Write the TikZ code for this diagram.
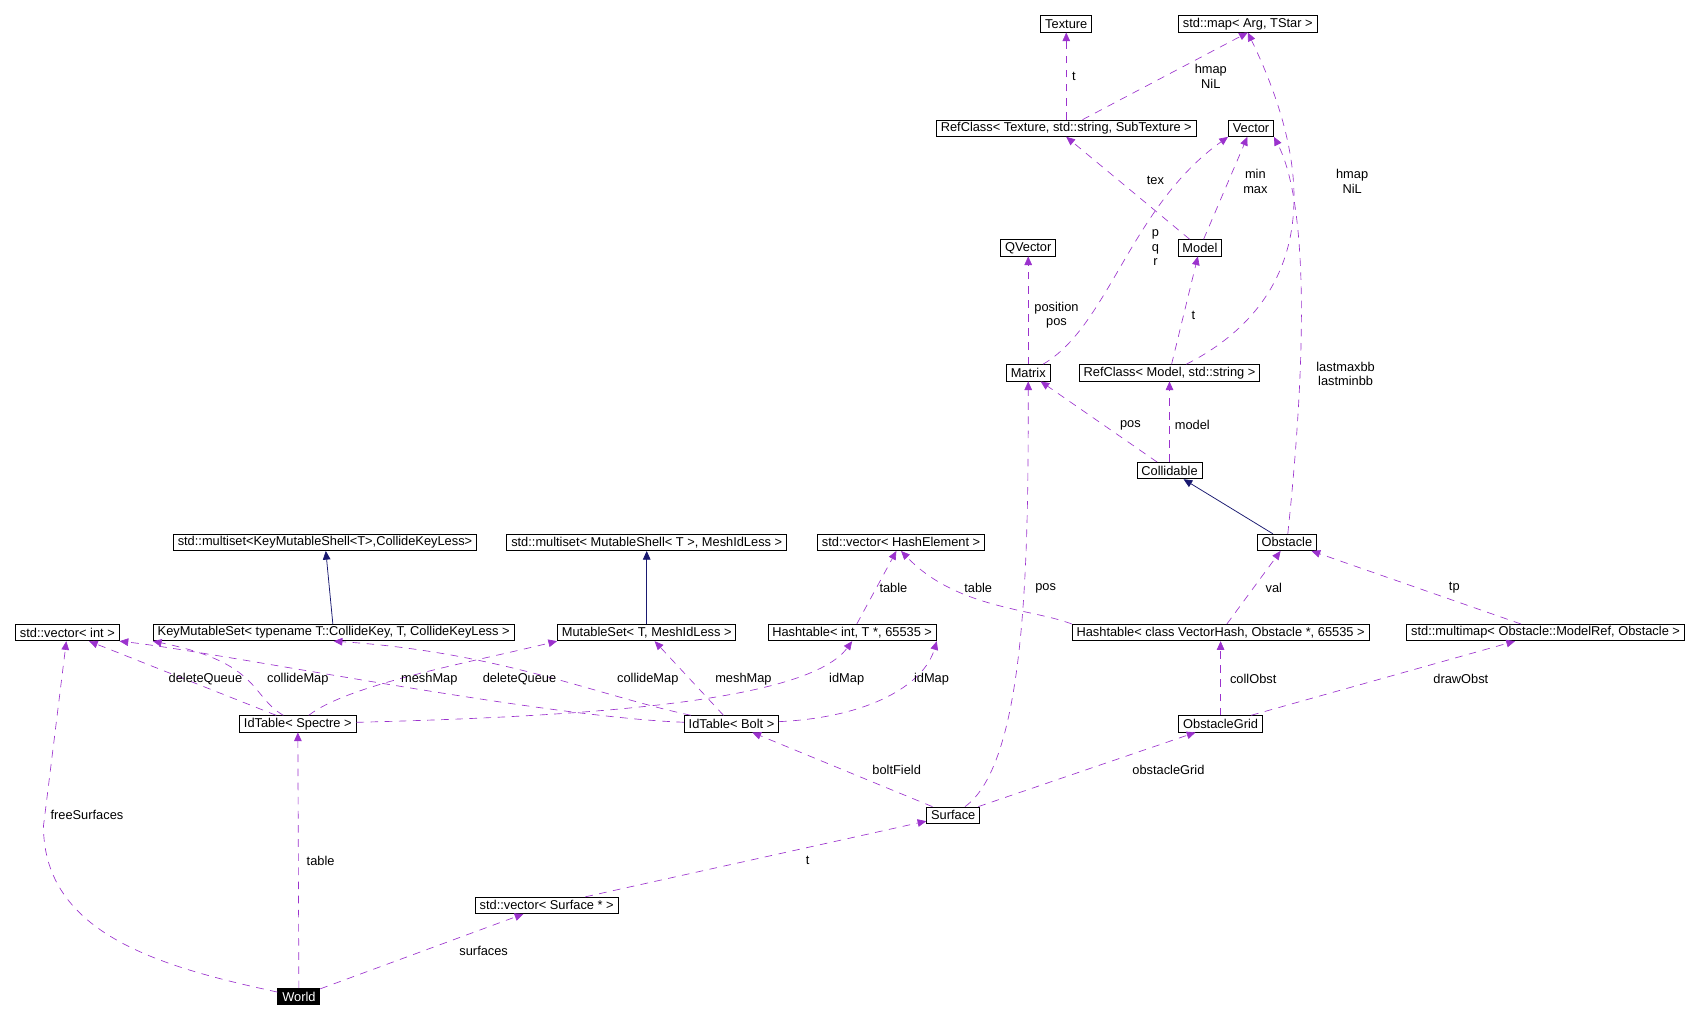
\documentclass[tikz,border=0pt]{standalone}
\usepackage{fontspec}
\setmainfont{Liberation Sans}
\usetikzlibrary{arrows.meta}
\begin{document}
\begin{tikzpicture}[x=1pt,y=-1pt,
  box/.style={draw,line width=0.8pt,inner xsep=4pt,inner ysep=1pt,minimum height=15pt,font=\fontsize{11.8}{12}\selectfont},
  lbl/.style={font=\fontsize{11.8}{13.5}\selectfont,align=center,inner sep=0pt},
  use/.style={draw={rgb,255:red,155;green,50;blue,205},dashed,dash pattern=on 7pt off 6pt,line width=0.6pt,
    -{Triangle[length=8pt,width=7pt,fill={rgb,255:red,155;green,50;blue,205}]}},
  inh/.style={draw={rgb,255:red,25;green,25;blue,112},line width=0.7pt,
    -{Triangle[length=8pt,width=7pt,fill={rgb,255:red,25;green,25;blue,112}]}}]
\useasboundingbox (0,0) rectangle (1565,937);
\node[box] (tex) at (981,22) {Texture};
\node[box] (map) at (1148,22) {std::map< Arg, TStar >};
\node[box] (reft) at (981,118) {RefClass< Texture, std::string, SubTexture >};
\node[box] (vec) at (1151,118) {Vector};
\node[box] (qv) at (946,228) {QVector};
\node[box] (model) at (1104,228) {Model};
\node[box] (mat) at (946,343) {Matrix};
\node[box] (refm) at (1076,343) {RefClass< Model, std::string >};
\node[box] (coll) at (1076,433) {Collidable};
\node[box] (obs) at (1184,499) {Obstacle};
\node[box] (msk) at (299,499) {std::multiset<KeyMutableShell<T>,CollideKeyLess>};
\node[box] (msm) at (595,499) {std::multiset< MutableShell< T >, MeshIdLess >};
\node[box] (vh) at (829,499) {std::vector< HashElement >};
\node[box] (vi) at (62,582) {std::vector< int >};
\node[box] (kms) at (307,582) {KeyMutableSet< typename T::CollideKey, T, CollideKeyLess >};
\node[box] (ms) at (595,582) {MutableSet< T, MeshIdLess >};
\node[box] (ht) at (784,582) {Hashtable< int, T *, 65535 >};
\node[box] (hv) at (1123,582) {Hashtable< class VectorHash, Obstacle *, 65535 >};
\node[box] (mm) at (1422,582) {std::multimap< Obstacle::ModelRef, Obstacle >};
\node[box] (ids) at (274,666) {IdTable< Spectre >};
\node[box] (idb) at (673,666) {IdTable< Bolt >};
\node[box] (og) at (1123,666) {ObstacleGrid};
\node[box] (surf) at (877,750) {Surface};
\node[box] (vs) at (503,833) {std::vector< Surface * >};
\node[box,fill=black,text=white] (world) at (275,917) {World};

\draw[use] (reft) -- (tex);
\draw[use] (reft) -- (map.south);
\draw[use] (model) -- (reft.south);
\draw[use] (model) -- (vec);
\draw[use] (mat) .. controls (1020,300) and (1040,190) .. (vec.south west);
\draw[use] (obs) .. controls (1205,300) and (1200,180) .. (vec.south east);
\draw[use] (refm) .. controls (1180,290) and (1230,200) .. (map.south);
\draw[use] (refm) -- (model);
\draw[use] (mat) -- (qv);
\draw[use] (coll) -- (mat);
\draw[use] (coll) -- (refm);
\draw[inh] (obs) -- (coll);
\draw[inh] (kms) -- (msk);
\draw[inh] (ms) -- (msm);
\draw[use] (ht) -- (vh);
\draw[use] (hv.north west) .. controls (950,560) and (880,560) .. (vh.south);
\draw[use] (hv) -- (obs);
\draw[use] (mm) -- (obs);
\draw[use] (surf) .. controls (946,700) and (946,500) .. (mat);
\draw[use] (ids) -- (vi);
\draw[use] (ids) .. controls (230,640) and (240,610) .. (kms.south west);
\draw[use] (ids) .. controls (320,630) and (430,610) .. (ms.south west);
\draw[use] (ids) .. controls (500,660) and (740,650) .. (ht.south);
\draw[use] (idb) .. controls (500,660) and (200,600) .. (vi.south east);
\draw[use] (idb) .. controls (550,640) and (460,600) .. (kms.south);
\draw[use] (idb) -- (ms);
\draw[use] (idb) .. controls (800,660) and (850,630) .. (ht.south east);
\draw[use] (og) -- (hv);
\draw[use] (og) -- (mm);
\draw[use] (surf) -- (idb);
\draw[use] (surf) -- (og);
\draw[use] (vs) -- (surf);
\draw[use] (world) .. controls (150,890) and (40,860) .. (40,760) -- (vi);
\draw[use] (world) -- (ids);
\draw[use] (world) -- (vs);

\node[lbl] (l1) at (988,70) {t};
\node[lbl] (l2) at (1114,70) {hmap\\NiL};
\node[lbl] (l3) at (1063,166) {tex};
\node[lbl] (l4) at (1155,167) {min\\max};
\node[lbl] (l5) at (1063,228) {p\\q\\r};
\node[lbl] (l6) at (1244,167) {hmap\\NiL};
\node[lbl] (l7) at (972,290) {position\\pos};
\node[lbl] (l8) at (1098,290) {t};
\node[lbl] (l9) at (1238,344) {lastmaxbb\\lastminbb};
\node[lbl] (l10) at (1040,391) {pos};
\node[lbl] (l11) at (1097,391) {model};
\node[lbl] (l12) at (822,541) {table};
\node[lbl] (l13) at (900,541) {table};
\node[lbl] (l14) at (962,541) {pos};
\node[lbl] (l15) at (1172,541) {val};
\node[lbl] (l16) at (1338,541) {tp};
\node[lbl] (l17) at (189,625) {deleteQueue};
\node[lbl] (l18) at (274,625) {collideMap};
\node[lbl] (l19) at (395,625) {meshMap};
\node[lbl] (l20) at (478,625) {deleteQueue};
\node[lbl] (l21) at (596,625) {collideMap};
\node[lbl] (l22) at (684,625) {meshMap};
\node[lbl] (l23) at (779,625) {idMap};
\node[lbl] (l24) at (857,625) {idMap};
\node[lbl] (l25) at (1153,625) {collObst};
\node[lbl] (l26) at (1344,625) {drawObst};
\node[lbl] (l27) at (825,708) {boltField};
\node[lbl] (l28) at (1075,708) {obstacleGrid};
\node[lbl] (l29) at (80,750) {freeSurfaces};
\node[lbl] (l30) at (295,792) {table};
\node[lbl] (l31) at (743,792) {t};
\node[lbl] (l32) at (445,875) {surfaces};
\end{tikzpicture}
\end{document}
